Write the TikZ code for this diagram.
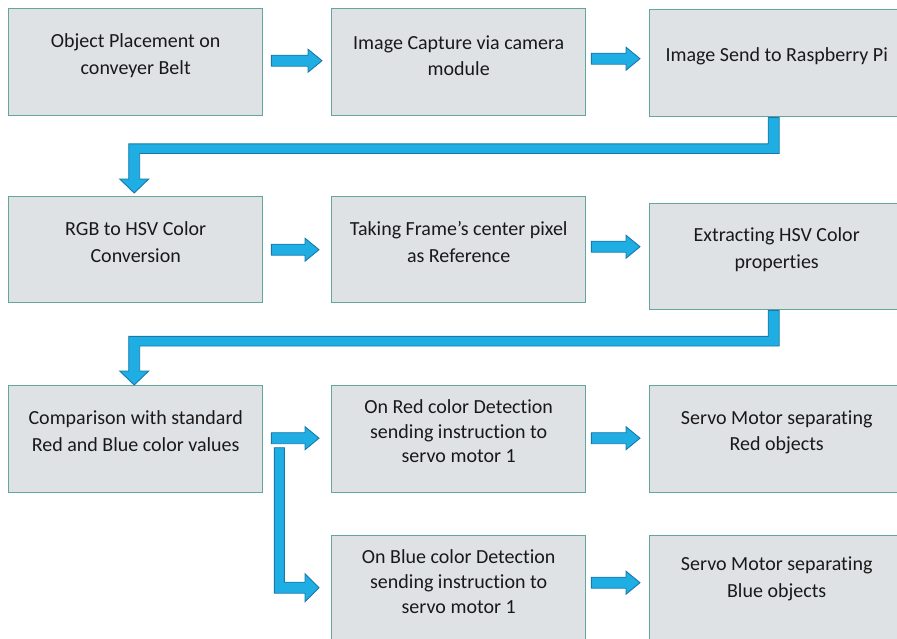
\documentclass[tikz,border=0pt]{standalone}
\usepackage{fontspec}
\setmainfont[RawFeature=-liga]{Carlito}
\usetikzlibrary{calc}
\definecolor{boxfill}{RGB}{223,226,229}
\definecolor{boxline}{RGB}{100,166,158}
\definecolor{arrfill}{RGB}{30,174,228}
\definecolor{arrline}{RGB}{24,120,168}
\definecolor{txtcol}{RGB}{25,25,25}
\tikzset{
  box/.style={draw=boxline, fill=boxfill, line width=1.4pt, rectangle, anchor=north west, inner sep=0pt},
  txt/.style={text=txtcol, font=\fontsize{20}{26.5}\selectfont, align=center, inner sep=0pt},
  arr/.style={fill=arrfill, draw=arrline, line width=0.9pt, line join=miter},
}
\newcommand\harrow[2]{%
  \draw[arr] ($(#1)+(0,-5.5)$) -- ($(#2)+(-14,-5.5)$) -- ($(#2)+(-14,-11.5)$) -- (#2)
   -- ($(#2)+(-14,11.5)$) -- ($(#2)+(-14,5.5)$) -- ($(#1)+(0,5.5)$) -- cycle;}
\begin{document}
\begin{tikzpicture}[x=1pt,y=-1pt]
\useasboundingbox (0,0) rectangle (897,638);
\clip (0,0) rectangle (897,638);
% boxes
\node[box, minimum width=254pt, minimum height=107pt] (n1) at (8,8) {};
\node[box, minimum width=254pt, minimum height=107pt] (n2) at (331,8) {};
\node[box, minimum width=254pt, minimum height=107pt] (n3) at (649,9) {};
\node[box, minimum width=254pt, minimum height=106pt] (n4) at (8,196) {};
\node[box, minimum width=254pt, minimum height=106pt] (n5) at (331,196) {};
\node[box, minimum width=254pt, minimum height=106pt] (n6) at (649,203) {};
\node[box, minimum width=254pt, minimum height=107pt] (n7) at (8,385) {};
\node[box, minimum width=254pt, minimum height=107pt] (n8) at (331,385) {};
\node[box, minimum width=254pt, minimum height=107pt] (n9) at (649,385) {};
\node[box, minimum width=254pt, minimum height=110pt] (n10) at (331,535) {};
\node[box, minimum width=254pt, minimum height=110pt] (n11) at (649,535) {};
% texts
\node[txt] (t1) at ($(n1.center)+(0,-6.5)$) {Object Placement on\\conveyer Belt};
\node[txt] (t2) at ($(n2.center)+(0,-6.5)$) {Image Capture via camera\\module};
\node[txt] (t3) at ($(n3.center)+(0,-7)$) {Image Send to Raspberry Pi};
\node[txt] (t4) at ($(n4.center)+(0,-7.5)$) {RGB to HSV Color\\Conversion};
\node[txt] (t5) at ($(n5.center)+(0,-7.5)$) {Taking Frame’s center pixel\\as Reference};
\node[txt] (t6) at ($(n6.center)+(0,-7)$) {Extracting HSV Color\\properties};
\node[txt] (t7) at ($(n7.center)+(0,-8)$) {Comparison with standard\\Red and Blue color values};
\node[txt, font=\fontsize{20}{24.5}\selectfont] (t8) at ($(n8.center)+(0,-8)$) {On Red color Detection\\sending instruction to\\servo motor 1};
\node[txt] (t9) at ($(n9.center)+(0,-7)$) {Servo Motor separating\\Red objects};
\node[txt, font=\fontsize{20}{25}\selectfont] (t10) at ($(n10.center)+(0,-9)$) {On Blue color Detection\\sending instruction to\\servo motor 1};
\node[txt] (t11) at ($(n11.center)+(0,-12)$) {Servo Motor separating\\Blue objects};
% horizontal arrows
\coordinate (a1s) at ($(n1.east)+(8,-1.5)$);  \coordinate (a1e) at ($(n2.west)+(-9,-1.5)$);
\coordinate (a2s) at ($(n2.east)+(5,-3.5)$);  \coordinate (a2e) at ($(n3.west)+(-9,-4.5)$);
\coordinate (a3s) at ($(n4.east)+(8,0)$);     \coordinate (a3e) at ($(n5.west)+(-12,0)$);
\coordinate (a4s) at ($(n5.east)+(5,-3)$);    \coordinate (a4e) at ($(n6.west)+(-9,-10)$);
\coordinate (a5s) at ($(n7.east)+(8,-1)$);    \coordinate (a5e) at ($(n8.west)+(-12,-1)$);
\coordinate (a6s) at ($(n8.east)+(5,-1)$);    \coordinate (a6e) at ($(n9.west)+(-9,-1)$);
\coordinate (a7s) at ($(n10.east)+(5,-8)$);   \coordinate (a7e) at ($(n11.west)+(-9,-8)$);
\harrow{a1s}{a1e}
\harrow{a2s}{a2e}
\harrow{a3s}{a3e}
\harrow{a4s}{a4e}
\harrow{a5s}{a5e}
\harrow{a6s}{a6e}
\harrow{a7s}{a7e}
% elbow arrow from n3 to n4
\coordinate (e1) at ($(n3.south)+(-3,0)$);
\coordinate (e1t) at ($(n4.north)+(-1.5,-3)$);
\draw[arr] ($(e1)+(-5.5,0)$) -- ($(e1)+(5.5,0)$) |- ($(e1t)+(5.5,-39.5)$) -- ($(e1t)+(5.5,-14)$)
  -- ($(e1t)+(14.5,-14)$) -- (e1t) -- ($(e1t)+(-14.5,-14)$) -- ($(e1t)+(-5.5,-14)$)
  |- ($(e1)+(-5.5,26.5)$) -- cycle;
% elbow arrow from n6 to n7
\coordinate (e2) at ($(n6.south)+(-3,0)$);
\coordinate (e2t) at ($(n7.north)+(-1.5,0)$);
\draw[arr] ($(e2)+(-5.5,0)$) -- ($(e2)+(5.5,0)$) |- ($(e2t)+(5.5,-39)$) -- ($(e2t)+(5.5,-14)$)
  -- ($(e2t)+(14.5,-14)$) -- (e2t) -- ($(e2t)+(-14.5,-14)$) -- ($(e2t)+(-5.5,-14)$)
  |- ($(e2)+(-5.5,26)$) -- cycle;
% L-shaped arrow from n7 to n10
\coordinate (l1) at ($(n7.east)+(16,8.5)$);
\coordinate (l1e) at ($(n10.west)+(-12,-3)$);
\draw[arr] ($(l1)+(-5,0)$) -- ($(l1)+(5,0)$) |- ($(l1e)+(-14,-5.5)$) -- ($(l1e)+(-14,-14)$)
  -- (l1e) -- ($(l1e)+(-14,14)$) -- ($(l1e)+(-14,5.5)$) -| cycle;
\end{tikzpicture}
\end{document}
